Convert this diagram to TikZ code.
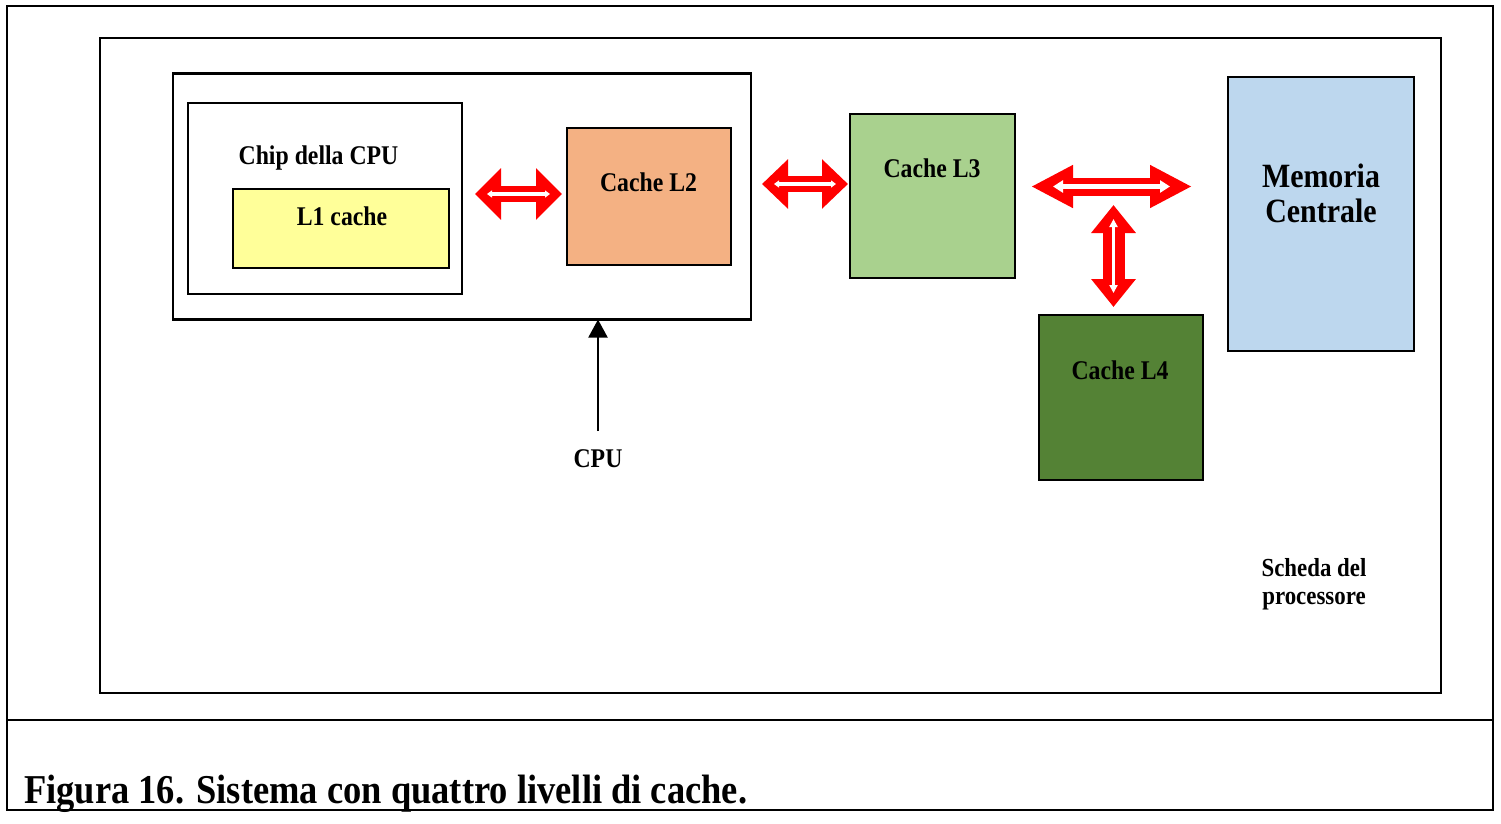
\documentclass[tikz,border=0pt]{standalone}
\usepackage{fontspec}
\setmainfont{Liberation Serif}
\usetikzlibrary{arrows.meta}
\definecolor{cYel}{HTML}{FFFF99}
\definecolor{cL2}{HTML}{F4B183}
\definecolor{cL3}{HTML}{A9D18E}
\definecolor{cL4}{HTML}{548235}
\definecolor{cMem}{HTML}{BDD7EE}
\definecolor{cRed}{HTML}{FF0000}
\newcommand{\ctext}[2]{\scalebox{0.88}[1]{\fontsize{#1}{#1}\selectfont\bfseries #2}}
\tikzset{
  box/.style={draw=black, line width=2.2pt, inner sep=0pt, outer sep=0pt, anchor=north west},
  txt/.style={inner sep=0pt, anchor=base},
  bigarrow/.style={draw=cRed, line width=#1},
  innerarrow/.style={draw=white, line width=#1},
}
\begin{document}
\begin{tikzpicture}[x=1pt,y=-1pt]
\useasboundingbox (0,0) rectangle (1501,823);
\fill[white] (0,0) rectangle (1501,823);
% outer frame
\draw[line width=2pt] (6.5,6) rectangle (1493,810);
\draw[line width=2pt] (6.5,720) -- (1493,720);
% board
\node[box, minimum width=1341pt, minimum height=655pt] (board) at (100,38) {};
% CPU package
\node[box, minimum width=578pt, minimum height=246pt] (cpu) at (173,73.5) {};
\node[box, minimum width=274pt, minimum height=191pt] (chip) at (188,103) {};
\node[box, fill=cYel, minimum width=216pt, minimum height=79pt] (l1) at (233,189) {};
\node[box, fill=cL2, minimum width=164pt, minimum height=137pt] (l2) at (567,128) {};
\node[box, fill=cL3, minimum width=165pt, minimum height=164pt] (l3) at (850,114) {};
\node[box, fill=cL4, minimum width=164pt, minimum height=165pt] (l4) at (1039,315) {};
\node[box, fill=cMem, minimum width=186pt, minimum height=274pt] (mem) at (1228,77) {};
% texts
\node[txt] (tchip) at (318.5,164) {\ctext{27pt}{Chip della CPU}};
\node[txt] (tl1) at (342,225) {\ctext{27pt}{L1 cache}};
\node[txt] (tl2) at (648.5,191) {\ctext{27pt}{Cache L2}};
\node[txt] (tl3) at (932,177) {\ctext{27pt}{Cache L3}};
\node[txt] (tl4) at (1120,379) {\ctext{27pt}{Cache L4}};
\node[txt] (tmem1) at (1321,187) {\ctext{34pt}{Memoria}};
\node[txt] (tmem2) at (1321,222) {\ctext{34pt}{Centrale}};
\node[txt] (tcpu) at (598,467) {\ctext{27pt}{CPU}};
\node[txt] (tsch1) at (1314,576) {\ctext{26pt}{Scheda del}};
\node[txt] (tsch2) at (1314,604) {\ctext{26pt}{processore}};
\node[txt, anchor=base west] (cap) at (24,803) {\scalebox{0.89}[1]{\fontsize{41pt}{41pt}\selectfont\bfseries Figura 16. Sistema con quattro livelli di cache.}};
% CPU arrow
\coordinate (cpufoot) at (598,431);
\draw[line width=2pt, -{Triangle[length=18pt,width=19pt]}] (cpufoot) -- (cpu.south -| cpufoot);
% red double arrows
\coordinate (a1l) at (475,194); \coordinate (a1r) at (562,194);
\draw[bigarrow=16pt, {Triangle[length=26pt,width=50pt]}-{Triangle[length=26pt,width=50pt]}] (a1l) -- (a1r);
\coordinate (a1il) at (487,194); \coordinate (a1ir) at (550,194);
\draw[innerarrow=4.5pt, {Triangle[length=5pt,width=7pt]}-{Triangle[length=5pt,width=7pt]}] (a1il) -- (a1ir);

\coordinate (a2l) at (762,184); \coordinate (a2r) at (848,184);
\draw[bigarrow=16pt, {Triangle[length=26pt,width=48pt]}-{Triangle[length=26pt,width=48pt]}] (a2l) -- (a2r);
\coordinate (a2il) at (774,184); \coordinate (a2ir) at (836,184);
\draw[innerarrow=4.5pt, {Triangle[length=5pt,width=7pt]}-{Triangle[length=5pt,width=7pt]}] (a2il) -- (a2ir);

\coordinate (a3l) at (1031,186.5); \coordinate (a3r) at (1192,186.5);
\draw[bigarrow=18pt, {Triangle[length=42pt,width=40pt]}-{Triangle[length=42pt,width=40pt]}] (a3l) -- (a3r);
\coordinate (a3il) at (1053,186.5); \coordinate (a3ir) at (1170,186.5);
\draw[innerarrow=5pt, {Triangle[length=10pt,width=12pt]}-{Triangle[length=10pt,width=12pt]}] (a3il) -- (a3ir);

\coordinate (a4t) at (1113.5,205); \coordinate (a4b) at (1113.5,307);
\draw[bigarrow=22pt, {Triangle[length=28pt,width=43pt]}-{Triangle[length=28pt,width=43pt]}] (a4t) -- (a4b);
\coordinate (a4it) at (1113.5,219); \coordinate (a4ib) at (1113.5,293);
\draw[innerarrow=3pt, {Triangle[length=8pt,width=8pt]}-{Triangle[length=8pt,width=8pt]}] (a4it) -- (a4ib);
\end{tikzpicture}
\end{document}
